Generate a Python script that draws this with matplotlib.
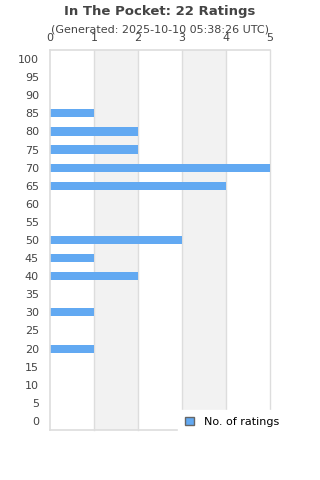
"""Horizontal bar chart of rating counts for 'In The Pocket'."""
import matplotlib.pyplot as plt
import matplotlib.patches as mpatches

TITLE = "In The Pocket: 22 Ratings"
SUBTITLE = "(Generated: 2025-10-10 05:38:26 UTC)"

# rating buckets, top to bottom as drawn
RATINGS = [100, 95, 90, 85, 80, 75, 70, 65, 60, 55, 50,
           45, 40, 35, 30, 25, 20, 15, 10, 5, 0]
COUNTS = [0, 0, 0, 1, 2, 2, 5, 4, 0, 0, 3,
          1, 2, 0, 1, 0, 1, 0, 0, 0, 0]
X_TICKS = [0, 1, 2, 3, 4, 5]

BAR = "#62a9f2"
TXT = "#444444"
GRID = "#dddddd"
BAND = "#f2f2f2"


def main():
    fig = plt.figure(figsize=(3.2, 4.8), dpi=100)
    ax = fig.add_axes([50 / 320, 1 - 430 / 480, 220 / 320, 380 / 480])

    # alternating shaded bands
    for lo in X_TICKS[1::2]:
        if lo + 1 <= X_TICKS[-1]:
            ax.axvspan(lo, lo + 1, color=BAND, zorder=0, lw=0)
    for x in X_TICKS[1:]:
        ax.axvline(x, color=GRID, lw=1, zorder=1, clip_on=False)

    ypos = list(range(len(RATINGS)))
    ax.barh(ypos, COUNTS, height=0.45, color=BAR, zorder=2)

    ax.set_ylim(len(RATINGS) - 0.5, -0.5)
    ax.set_xlim(X_TICKS[0], X_TICKS[-1])
    ax.set_yticks(ypos)
    ax.set_yticklabels([str(r) for r in RATINGS])
    ax.set_xticks(X_TICKS)
    ax.xaxis.tick_top()
    ax.tick_params(length=0, labelsize=8, colors=TXT)
    ax.tick_params(axis="x", pad=5)
    ax.tick_params(axis="y", pad=8)

    for side in ("left", "bottom", "top"):
        ax.spines[side].set_color(GRID)
        ax.spines[side].set_linewidth(1.2)
    ax.spines["right"].set_visible(False)

    fig.text(0.5, 1 - 11 / 480, TITLE, ha="center", va="center",
             fontsize=9.5, fontweight="bold", color=TXT)
    fig.text(0.5, 1 - 29 / 480, SUBTITLE, ha="center", va="center",
             fontsize=8, color=TXT)

    handle = mpatches.Patch(facecolor=BAR, edgecolor="#666666", lw=1,
                            label="No. of ratings")
    leg = fig.legend(handles=[handle], loc="center left",
                     bbox_to_anchor=(178 / 320, 1 - 422 / 480),
                     frameon=True, fontsize=8, handlelength=0.8,
                     handleheight=0.8, borderpad=0.6, handletextpad=0.9,
                     fancybox=False, borderaxespad=0)
    leg.get_frame().set_edgecolor("white")
    leg.get_frame().set_facecolor("white")
    leg.get_frame().set_alpha(1)
    leg.set_zorder(10)

    fig.savefig("out.png", dpi=100)


if __name__ == "__main__":
    main()
